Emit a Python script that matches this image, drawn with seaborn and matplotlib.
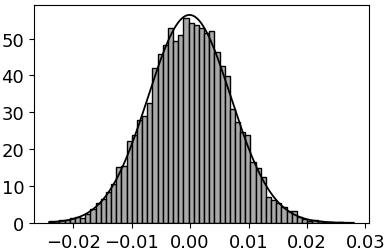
import numpy as np
import pandas as pd
import matplotlib
matplotlib.use("Agg")
import matplotlib.pyplot as plt
import seaborn as sns

# istogramma (densita): 59 classi tra x_min e x_max
x_min = -0.0241
x_max = 0.0280
n_bins = 59
densita = [
    0.4, 0.5, 0.9, 0.8, 1.3, 1.5, 1.4, 2.3, 3.8, 5.4,
    6.5, 8.3, 10.6, 15.1, 15.4, 22.1, 23.9, 28.0, 29.0, 32.4,
    41.9, 45.8, 48.2, 52.8, 49.4, 50.9, 55.5,
    54.2, 53.7, 53.0, 51.5, 52.1, 46.4, 42.6, 39.9, 30.9, 27.3,
    24.6, 23.9, 16.4, 14.8, 12.4, 7.0, 6.2, 5.4, 4.2, 3.2,
    3.3, 1.5, 1.1, 0.6, 0.9, 0.4, 0.3, 0.2, 0.1, 0.2, 0.1, 0.1,
]
# parametri della normale sovrapposta
media = -0.0001
dev_std = 0.00707

bordi = np.linspace(x_min, x_max, n_bins + 1)
centri = (bordi[:-1] + bordi[1:]) / 2
df = pd.DataFrame({"x": centri, "densita": densita})

xs = np.linspace(x_min, x_max, 400)
pdf = np.exp(-0.5 * ((xs - media) / dev_std) ** 2) / (dev_std * np.sqrt(2 * np.pi))
curva = pd.DataFrame({"x": xs, "pdf": pdf})

fig, ax = plt.subplots(figsize=(3.9, 2.53), dpi=100)
fig.subplots_adjust(left=0.087, right=0.946, top=0.976, bottom=0.115)

sns.histplot(data=df, x="x", weights="densita", bins=n_bins, binrange=(x_min, x_max),
             color="darkgray", edgecolor="black", linewidth=1.0, alpha=1, ax=ax)
sns.lineplot(data=curva, x="x", y="pdf", color="black", linewidth=1.3, ax=ax)

ax.set_xlim(-0.0267, 0.0306)
ax.set_ylim(0, 59.1)
ax.set_xticks([-0.02, -0.01, 0.00, 0.01, 0.02, 0.03])
ax.set_xticklabels(["\u22120.02", "\u22120.01", "0.00", "0.01", "0.02", "0.03"])
ax.set_yticks([0, 10, 20, 30, 40, 50])
ax.tick_params(labelsize=13)
ax.set_xlabel("")
ax.set_ylabel("")

fig.savefig("out.png", dpi=100)
